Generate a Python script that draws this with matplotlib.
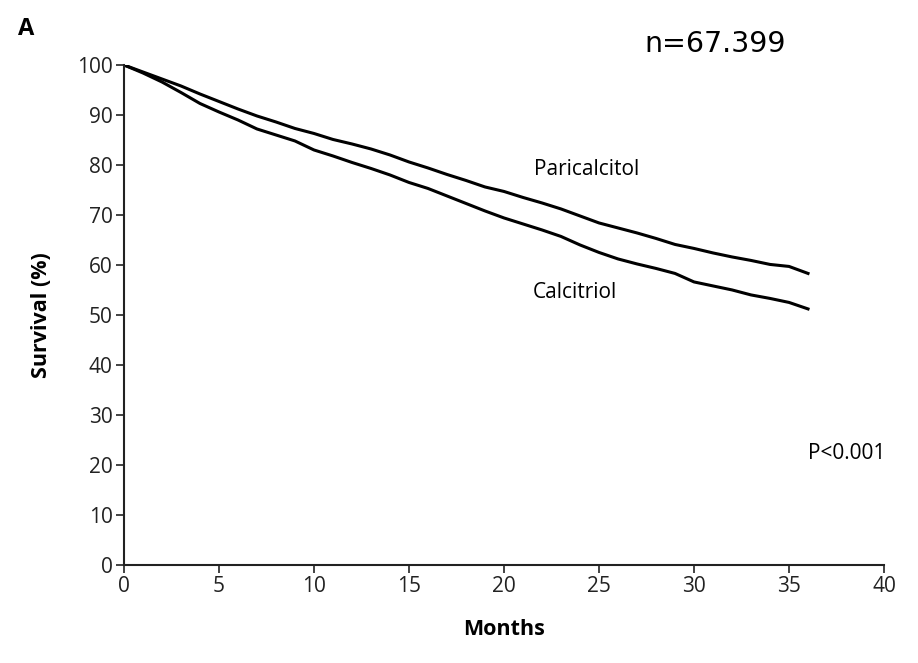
import numpy as np
import matplotlib.pyplot as plt

# data
months = np.arange(0, 37)
paricalcitol = [100, 98.6, 97.2, 95.8, 94.2, 92.7, 91.2, 89.8, 88.6, 87.3,
                86.3, 85.1, 84.2, 83.2, 82.0, 80.6, 79.4, 78.1, 76.9, 75.6,
                74.7, 73.5, 72.4, 71.2, 69.8, 68.4, 67.4, 66.4, 65.3, 64.1,
                63.3, 62.4, 61.6, 60.9, 60.1, 59.7, 58.3]
calcitriol = [100, 98.4, 96.6, 94.5, 92.3, 90.6, 89.0, 87.2, 86.0, 84.8,
              83.0, 81.8, 80.5, 79.3, 78.0, 76.5, 75.3, 73.8, 72.3, 70.8,
              69.4, 68.2, 67.0, 65.7, 64.0, 62.5, 61.2, 60.2, 59.3, 58.3,
              56.6, 55.8, 55.0, 54.0, 53.3, 52.5, 51.2]
xticks = [0, 5, 10, 15, 20, 25, 30, 35, 40]
yticks = [0, 10, 20, 30, 40, 50, 60, 70, 80, 90, 100]

plt.rcParams['font.family'] = ['Open Sans', 'DejaVu Sans']

fig = plt.figure(figsize=(9.18, 6.63), dpi=100)
ax = fig.add_axes([0.135, 0.148, 0.828, 0.754])

ax.plot(months, paricalcitol, color="black", lw=2.2)
ax.plot(months, calcitriol, color="black", lw=2.2)

ax.set_xlim(0, 40)
ax.set_ylim(0, 100)
ax.set_xticks(xticks)
ax.set_yticks(yticks)
ax.tick_params(labelsize=15, length=6, width=1.2, colors="#222222", pad=2)
for s in ["top", "right"]:
    ax.spines[s].set_visible(False)
for s in ["left", "bottom"]:
    ax.spines[s].set_linewidth(1.5)
    ax.spines[s].set_color("#222222")

ax.set_xlabel("Months", fontsize=15.5, fontweight="bold", labelpad=16)
ax.set_ylabel("Survival (%)", fontsize=15.5, fontweight="bold", labelpad=18)

ax.text(21.6, 79.0, "Paricalcitol", fontsize=15, va="center")
ax.text(21.5, 54.4, "Calcitriol", fontsize=15, va="center")
ax.text(36.0, 22.3, "P<0.001", fontsize=15, va="center")

fig.text(0.02, 0.947, "A", fontsize=17, fontweight="bold")
fig.text(0.702, 0.922, "n=67.399", fontsize=20.5, family="DejaVu Sans")

fig.savefig("out.png", dpi=100)
